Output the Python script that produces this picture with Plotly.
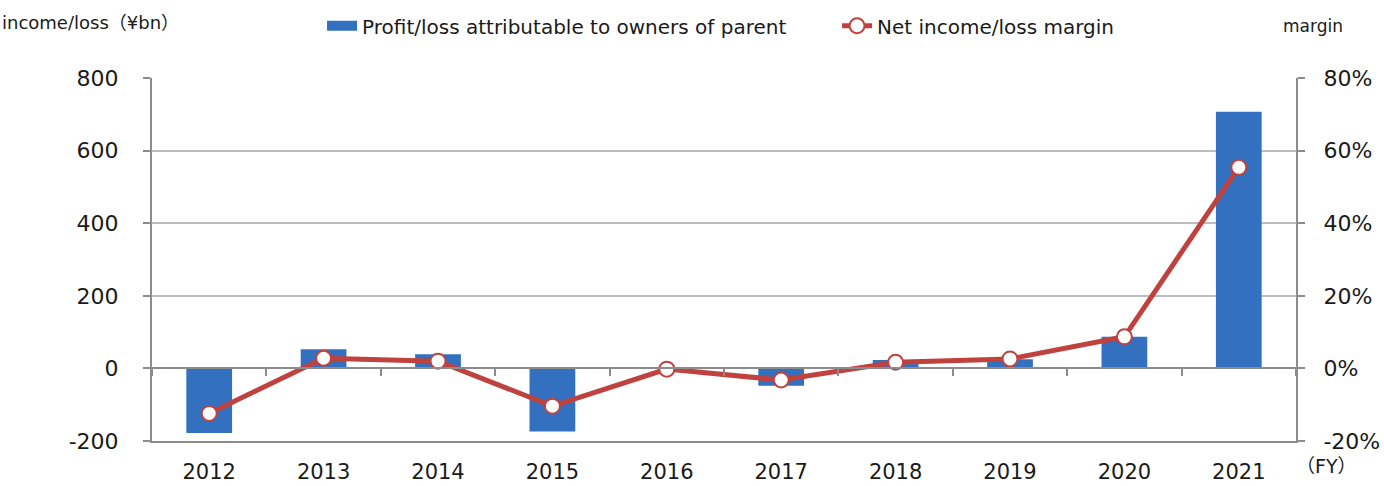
import plotly.graph_objects as go

# Fiscal years and values
years = ["2012", "2013", "2014", "2015", "2016", "2017", "2018", "2019", "2020", "2021"]
income_bn = [-178, 53, 39, -174, 3, -48, 23, 25, 87, 707]          # ¥bn
margin_pct = [-12.4, 2.8, 2.0, -10.4, -0.2, -3.2, 1.7, 2.6, 8.7, 55.4]  # %

left_ticks = [-200, 0, 200, 400, 600, 800]
right_ticks = [-20, 0, 20, 40, 60, 80]
left_labels = [str(v) for v in left_ticks]
right_labels = [f"{v}%" for v in right_ticks]

FONT = "DejaVu Sans, Noto Sans CJK JP, sans-serif"
GRID = "#bdbdbd"
AXIS = "#8c8c8c"
BAR = "#3371c0"
LINE = "#c0423e"

fig = go.Figure()

fig.add_trace(go.Bar(
    x=years, y=income_bn, name="Profit/loss attributable to owners of parent",
    marker=dict(color=BAR, line=dict(width=0)), width=0.4,
    xaxis="x", yaxis="y", hoverinfo="x+y", showlegend=False,
))

# legend swatch for the bar series (wide rectangle)
fig.add_trace(go.Scatter(
    x=[None], y=[None], mode="lines", name="Profit/loss attributable to owners of parent",
    line=dict(color=BAR, width=10), xaxis="x", yaxis="y", hoverinfo="skip",
))

# helper trace that carries the category axis drawn along the zero line
fig.add_trace(go.Scatter(
    x=years, y=income_bn, mode="lines", line=dict(width=0), opacity=0,
    xaxis="x2", yaxis="y", showlegend=False, hoverinfo="skip",
))

fig.add_trace(go.Scatter(
    x=years, y=margin_pct, name="Net income/loss margin", mode="lines+markers",
    line=dict(color=LINE, width=5),
    marker=dict(size=15, color="white", line=dict(color=LINE, width=2)),
    xaxis="x", yaxis="y2",
))

fig.update_layout(
    width=1384, height=486,
    margin=dict(l=152, r=88, t=78, b=45),
    paper_bgcolor="white", plot_bgcolor="white",
    font=dict(family=FONT, color="#1a1a1a", size=18),
    showlegend=True,
    legend=dict(
        orientation="h", xref="container", yref="container",
        x=0.2327, y=0.947, xanchor="left", yanchor="middle",
        font=dict(size=20), bgcolor="rgba(0,0,0,0)", entrywidth=470,
    ),
    xaxis=dict(
        type="category", categoryorder="array", categoryarray=years,
        range=[-0.5, 9.5], showline=True, linecolor=AXIS, linewidth=2,
        showgrid=False, ticks="", automargin=False,
        tickfont=dict(size=21), ticklabelstandoff=11, zeroline=False,
    ),
    xaxis2=dict(
        type="category", categoryorder="array", categoryarray=years,
        range=[-0.5, 9.5], overlaying="x", anchor="free", position=0.2,
        side="bottom", showline=True, linecolor=AXIS, linewidth=2,
        ticks="outside", ticklen=7, tickwidth=2, tickcolor=AXIS, automargin=False,
        tickson="boundaries", showticklabels=False, showgrid=False, zeroline=False,
    ),
    yaxis=dict(
        range=[-200, 800], tickvals=left_ticks, ticktext=left_labels,
        showgrid=True, gridcolor=GRID, automargin=False,
        gridwidth=2, zeroline=False, showline=True, linecolor=AXIS, linewidth=2,
        ticks="outside", ticklen=7, tickwidth=2, tickcolor=AXIS,
        tickfont=dict(size=22), ticklabelstandoff=20,
    ),
    yaxis2=dict(
        range=[-20, 80], tickvals=right_ticks, ticktext=right_labels, overlaying="y",
        side="right", showgrid=False, zeroline=False, showline=True, automargin=False,
        linecolor=AXIS, linewidth=2, ticks="outside", ticklen=7, tickwidth=2,
        tickcolor=AXIS, tickfont=dict(size=22), ticklabelstandoff=14,
    ),
    annotations=[
        dict(text="income/loss（¥bn）", xref="paper", yref="paper",
             x=-152 / 1144, y=1 + 56 / 363, xanchor="left", yanchor="middle",
             showarrow=False, font=dict(size=18)),
        dict(text="margin", xref="paper", yref="paper",
             x=1 + 49 / 1144, y=1 + 52 / 363, xanchor="right", yanchor="middle",
             showarrow=False, font=dict(size=17)),
        dict(text="（FY）", xref="paper", yref="paper",
             x=1 + 63 / 1144, y=-25 / 363, xanchor="right", yanchor="middle",
             showarrow=False, font=dict(size=19)),
    ],
)

fig.write_html("out.html")
